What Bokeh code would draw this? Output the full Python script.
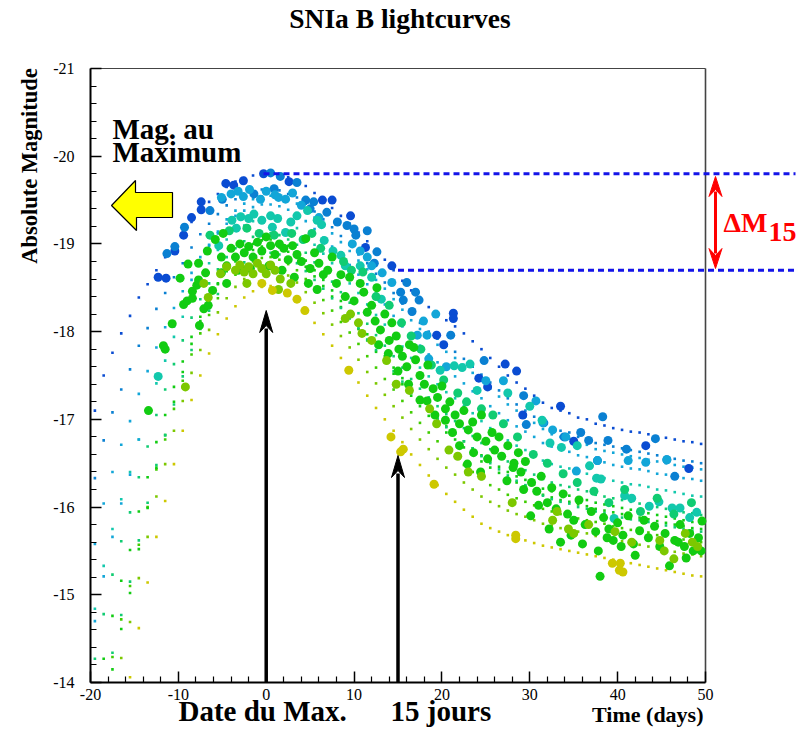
from bokeh.plotting import figure
from bokeh.models import Range1d, LinearAxis, FixedTicker, Label, ColumnDataSource
from bokeh.embed import file_html
from bokeh.resources import INLINE
import math

# ---------------- data ----------------
XTICKS = [-20, -10, 0, 10, 20, 30, 40, 50]
XMINOR = [-18, -16, -14, -12, -8, -6, -4, -2, 2, 4, 6, 8, 12, 14, 16, 18,
          22, 24, 26, 28, 32, 34, 36, 38, 42, 44, 46, 48]
YTICKS = [-21, -20, -19, -18, -17, -16, -15, -14]
YMINOR = [-20.8, -20.6, -20.4, -20.2, -19.8, -19.6, -19.4, -19.2, -18.8, -18.6,
          -18.4, -18.2, -17.8, -17.6, -17.4, -17.2, -16.8, -16.6, -16.4, -16.2,
          -15.8, -15.6, -15.4, -15.2, -14.8, -14.6, -14.4, -14.2]

# template (fitted light-curve) sampling days
DAYS = [-19.5, -18.5, -17.5, -16.5, -15.5, -14.5, -13.5, -12.5, -11.5, -10.5,
        -9.5, -8.5, -7.5, -6.5, -5.5, -4.5, -3.5, -2.5, -1.5, -0.5,
        0.5, 1.5, 2.5, 3.5, 4.5, 5.5, 6.5, 7.5, 8.5, 9.5,
        10.5, 11.5, 12.5, 13.5, 14.5, 15.5, 16.5, 17.5, 18.5, 19.5,
        20.5, 21.5, 22.5, 23.5, 24.5, 25.5, 26.5, 27.5, 28.5, 29.5,
        30.5, 31.5, 32.5, 33.5, 34.5, 35.5, 36.5, 37.5, 38.5, 39.5,
        40.5, 41.5, 42.5, 43.5, 44.5, 45.5, 46.5, 47.5, 48.5, 49.5]

T1 = [-17.10, -17.50, -17.76, -17.98, -18.18, -18.39, -18.54, -18.70, -18.85, -18.98,
      -19.10, -19.25, -19.38, -19.48, -19.57, -19.65, -19.71, -19.75, -19.78, -19.80,
      -19.80, -19.79, -19.76, -19.72, -19.66, -19.58, -19.50, -19.41, -19.32, -19.23,
      -19.13, -19.03, -18.92, -18.82, -18.70, -18.58, -18.47, -18.37, -18.28, -18.20,
      -18.13, -18.06, -17.98, -17.89, -17.80, -17.70, -17.60, -17.50, -17.42, -17.35,
      -17.27, -17.19, -17.13, -17.10, -17.07, -17.02, -17.00, -16.95, -16.93, -16.90,
      -16.88, -16.86, -16.85, -16.83, -16.80, -16.79, -16.77, -16.75, -16.74, -16.72]
T2 = [-16.33, -16.76, -17.08, -17.34, -17.57, -17.84, -18.04, -18.26, -18.44, -18.62,
      -18.78, -18.96, -19.11, -19.23, -19.34, -19.44, -19.51, -19.56, -19.59, -19.62,
      -19.62, -19.61, -19.57, -19.53, -19.46, -19.37, -19.28, -19.19, -19.09, -18.99,
      -18.88, -18.78, -18.66, -18.56, -18.44, -18.32, -18.20, -18.10, -18.00, -17.92,
      -17.84, -17.77, -17.69, -17.60, -17.51, -17.42, -17.33, -17.24, -17.17, -17.10,
      -17.03, -16.96, -16.90, -16.87, -16.85, -16.80, -16.78, -16.73, -16.71, -16.69,
      -16.67, -16.65, -16.63, -16.61, -16.59, -16.57, -16.55, -16.53, -16.52, -16.50]
T3 = [-15.58, -16.04, -16.40, -16.71, -16.98, -17.29, -17.55, -17.82, -18.05, -18.27,
      -18.46, -18.67, -18.85, -18.99, -19.12, -19.23, -19.32, -19.38, -19.42, -19.45,
      -19.45, -19.43, -19.39, -19.34, -19.26, -19.17, -19.07, -18.97, -18.87, -18.76,
      -18.65, -18.54, -18.42, -18.31, -18.18, -18.06, -17.94, -17.84, -17.74, -17.65,
      -17.57, -17.49, -17.41, -17.32, -17.24, -17.15, -17.07, -16.99, -16.92, -16.86,
      -16.80, -16.73, -16.69, -16.66, -16.63, -16.59, -16.57, -16.53, -16.51, -16.48,
      -16.46, -16.44, -16.43, -16.41, -16.38, -16.37, -16.35, -16.33, -16.32, -16.30]
T4 = [-14.84, -15.33, -15.75, -16.09, -16.40, -16.77, -17.09, -17.41, -17.67, -17.94,
      -18.17, -18.41, -18.61, -18.78, -18.93, -19.05, -19.15, -19.21, -19.26, -19.30,
      -19.30, -19.28, -19.24, -19.18, -19.09, -18.99, -18.89, -18.78, -18.67, -18.55,
      -18.44, -18.31, -18.19, -18.08, -17.95, -17.83, -17.70, -17.59, -17.49, -17.40,
      -17.31, -17.24, -17.15, -17.07, -16.98, -16.90, -16.83, -16.76, -16.70, -16.65,
      -16.59, -16.53, -16.49, -16.46, -16.44, -16.40, -16.38, -16.35, -16.33, -16.30,
      -16.28, -16.26, -16.25, -16.23, -16.20, -16.19, -16.17, -16.15, -16.13, -16.12]
T5 = [-14.27, -14.78, -15.23, -15.61, -15.94, -16.34, -16.69, -17.05, -17.34, -17.63,
      -17.90, -18.16, -18.37, -18.55, -18.71, -18.85, -18.95, -19.03, -19.08, -19.11,
      -19.12, -19.10, -19.05, -18.99, -18.90, -18.79, -18.68, -18.57, -18.45, -18.33,
      -18.21, -18.09, -17.96, -17.84, -17.72, -17.59, -17.46, -17.35, -17.25, -17.15,
      -17.06, -16.98, -16.90, -16.81, -16.73, -16.66, -16.59, -16.52, -16.47, -16.42,
      -16.37, -16.32, -16.28, -16.25, -16.23, -16.20, -16.18, -16.14, -16.12, -16.10,
      -16.08, -16.06, -16.04, -16.02, -16.00, -15.98, -15.96, -15.94, -15.93, -15.91]
T6 = [-13.74, -14.27, -14.76, -15.16, -15.51, -15.95, -16.34, -16.74, -17.05, -17.37,
      -17.66, -17.94, -18.17, -18.37, -18.54, -18.69, -18.80, -18.88, -18.93, -18.97,
      -18.98, -18.96, -18.91, -18.84, -18.74, -18.63, -18.52, -18.40, -18.28, -18.16,
      -18.03, -17.90, -17.77, -17.65, -17.52, -17.40, -17.27, -17.15, -17.04, -16.94,
      -16.85, -16.77, -16.68, -16.60, -16.52, -16.45, -16.39, -16.33, -16.28, -16.24,
      -16.19, -16.14, -16.11, -16.08, -16.06, -16.03, -16.01, -15.98, -15.96, -15.94,
      -15.92, -15.90, -15.88, -15.86, -15.84, -15.82, -15.80, -15.78, -15.76, -15.75]
T7 = [-13.22, -13.77, -14.29, -14.72, -15.10, -15.57, -16.00, -16.43, -16.77, -17.12,
      -17.44, -17.74, -17.98, -18.19, -18.38, -18.53, -18.65, -18.74, -18.80, -18.84,
      -18.85, -18.82, -18.77, -18.70, -18.60, -18.48, -18.36, -18.24, -18.11, -17.99,
      -17.86, -17.72, -17.59, -17.46, -17.34, -17.21, -17.08, -16.96, -16.85, -16.75,
      -16.65, -16.57, -16.48, -16.40, -16.32, -16.25, -16.20, -16.14, -16.10, -16.06,
      -16.02, -15.98, -15.95, -15.92, -15.90, -15.87, -15.85, -15.83, -15.81, -15.78,
      -15.76, -15.74, -15.73, -15.71, -15.68, -15.67, -15.65, -15.63, -15.61, -15.60]
T8 = [-12.70, -13.27, -13.82, -14.28, -14.69, -15.19, -15.66, -16.12, -16.49, -16.87,
      -17.21, -17.53, -17.79, -18.02, -18.22, -18.38, -18.51, -18.60, -18.67, -18.71,
      -18.72, -18.69, -18.64, -18.56, -18.45, -18.33, -18.21, -18.08, -17.95, -17.82,
      -17.68, -17.54, -17.41, -17.28, -17.15, -17.02, -16.89, -16.77, -16.66, -16.55,
      -16.45, -16.37, -16.28, -16.20, -16.12, -16.06, -16.01, -15.96, -15.92, -15.89,
      -15.85, -15.81, -15.79, -15.76, -15.74, -15.72, -15.70, -15.67, -15.65, -15.63,
      -15.61, -15.59, -15.57, -15.55, -15.53, -15.51, -15.49, -15.47, -15.46, -15.44]
T9 = [-11.92, -12.52, -13.12, -13.62, -14.06, -14.62, -15.14, -15.66, -16.07, -16.49,
      -16.87, -17.22, -17.50, -17.75, -17.97, -18.15, -18.29, -18.39, -18.46, -18.51,
      -18.52, -18.49, -18.43, -18.35, -18.23, -18.10, -17.97, -17.84, -17.70, -17.56,
      -17.42, -17.27, -17.13, -17.00, -16.87, -16.74, -16.60, -16.48, -16.36, -16.25,
      -16.15, -16.06, -15.97, -15.89, -15.81, -15.76, -15.72, -15.68, -15.65, -15.62,
      -15.59, -15.56, -15.54, -15.52, -15.50, -15.48, -15.46, -15.44, -15.42, -15.40,
      -15.38, -15.36, -15.34, -15.32, -15.30, -15.28, -15.26, -15.24, -15.22, -15.21]
T10 = [-13.03, -13.60, -14.15, -14.61, -15.02, -15.52, -15.99, -16.45, -16.82, -17.20,
       -17.54, -17.86, -18.12, -18.35, -18.55, -18.71, -18.84, -18.93, -19.00, -19.04,
       -19.05, -19.03, -18.98, -18.91, -18.81, -18.70, -18.59, -18.47, -18.35, -18.23,
       -18.10, -17.97, -17.84, -17.72, -17.59, -17.47, -17.34, -17.22, -17.11, -17.01,
       -16.92, -16.84, -16.75, -16.67, -16.59, -16.52, -16.46, -16.40, -16.35, -16.31,
       -16.26, -16.21, -16.18, -16.15, -16.13, -16.10, -16.08, -16.05, -16.03, -16.01,
       -15.99, -15.97, -15.95, -15.93, -15.91, -15.89, -15.87, -15.85, -15.83, -15.82]
T11 = [-14.70, -15.21, -15.66, -16.04, -16.37, -16.77, -17.12, -17.48, -17.77, -18.06,
       -18.33, -18.59, -18.80, -18.98, -19.14, -19.28, -19.38, -19.46, -19.51, -19.54,
       -19.55, -19.54, -19.50, -19.46, -19.39, -19.30, -19.21, -19.12, -19.02, -18.92,
       -18.81, -18.71, -18.59, -18.49, -18.37, -18.25, -18.13, -18.03, -17.93, -17.85,
       -17.77, -17.70, -17.62, -17.53, -17.44, -17.35, -17.26, -17.17, -17.10, -17.03,
       -16.96, -16.89, -16.83, -16.80, -16.78, -16.73, -16.71, -16.66, -16.64, -16.62,
       -16.60, -16.58, -16.56, -16.54, -16.52, -16.50, -16.48, -16.46, -16.45, -16.43]
T12 = [-13.27, -13.82, -14.34, -14.77, -15.15, -15.62, -16.05, -16.48, -16.82, -17.17,
       -17.49, -17.79, -18.03, -18.24, -18.43, -18.58, -18.70, -18.79, -18.85, -18.89,
       -18.90, -18.88, -18.84, -18.78, -18.69, -18.59, -18.49, -18.38, -18.27, -18.15,
       -18.04, -17.91, -17.79, -17.68, -17.55, -17.43, -17.30, -17.19, -17.09, -17.00,
       -16.91, -16.84, -16.75, -16.67, -16.58, -16.50, -16.43, -16.36, -16.30, -16.25,
       -16.19, -16.13, -16.09, -16.06, -16.04, -16.00, -15.98, -15.95, -15.93, -15.90,
       -15.88, -15.86, -15.85, -15.83, -15.80, -15.79, -15.77, -15.75, -15.73, -15.72]

# measured points, grouped by colour class
G1_X = [-12.3, -11.4, -10.4, -9.4, -8.5, -7.4, -7.4, -4.6, -3.7, -2.6, -0.3, 2.6, 6.4, 7.5, 9.6,
        11.3, 14.3, 19.4, 20.2, 21.3, 21.3, 24.2, 25.2, 27.2, 28.5, 29.2, 33.5, 35.0, 43.2, 48.1]
G1_Y = [-18.62, -18.61, -18.92, -19.10, -19.30, -19.39, -19.48, -19.69, -19.67, -19.72, -19.80,
        -19.71, -19.50, -19.50, -19.32, -18.96, -18.75, -17.96, -17.85, -18.21, -18.15, -17.47,
        -17.37, -17.63, -17.55, -17.05, -17.15, -16.75, -16.70, -16.44]
G2_X = [-11.3, -10.4, -9.3, -6.4, -5.0, -1.4, 0.5, 0.9, 1.6, 3.5, 4.5, 5.0, 5.4, 6.9, 8.1, 9.2,
        10.0, 10.2, 11.5, 12.6, 12.3, 15.3, 16.0, 17.0, 15.6, 17.4, 16.6, 21.0, 24.8, 29.3, 29.6,
        31.6, 33.9, 35.8, 36.7, 38.3, 38.9, 41.0, 44.3, 45.6, 46.5, 37.7]
G2_Y = [-18.89, -18.97, -19.19, -19.38, -19.51, -19.57, -19.81, -19.63, -19.77, -19.70, -19.50,
        -19.40, -19.48, -19.36, -19.25, -19.21, -19.17, -19.10, -19.15, -18.91, -18.78, -18.45,
        -18.56, -18.45, -18.36, -18.36, -18.23, -17.96, -17.67, -17.27, -16.94, -16.96, -16.80,
        -16.85, -16.76, -17.03, -16.76, -16.66, -16.78, -16.54, -16.35, -16.53]
G3_X = [-5.1, -4.0, -3.2, -2.6, -1.9, -0.65, 0.0, 1.0, 1.4, 2.2, 3.0, 4.0, 6.0, 9.8, 10.7, 11.5,
        12.0, 13.2, 14.3, 17.2, 17.9, 18.3, 18.5, 19.3, 20.5, 25.0, 27.0, 30.7, 31.5, 32.6, 34.1,
        35.3, 37.7, 41.2, 43.2, 45.6]
G3_Y = [-19.53, -19.57, -19.60, -19.54, -19.62, -19.51, -19.60, -19.56, -19.53, -19.51, -19.58,
        -19.44, -19.30, -19.00, -18.92, -18.85, -18.75, -18.67, -18.56, -17.96, -18.12, -17.96,
        -17.69, -18.20, -17.60, -17.44, -17.44, -17.21, -16.96, -16.88, -16.80, -16.41, -16.53,
        -16.53, -16.51, -16.54]
G4_X = [-12.3, -5.4, -3.9, -3.4, -2.9, -2.0, -1.4, -0.5, 0.5, 0.7, 1.3, 2.2, 2.8, 3.5, 4.7, 5.8,
        6.3, 6.6, 7.6, 8.5, 9.0, 10.7, 12.0, 13.1, 19.8, 21.4, 22.3, 23.2, 24.0, 27.5, 30.0, 31.4,
        32.3, 33.6, 35.4, 36.8, 37.6, 38.1, 39.6, 40.8, 41.6, 43.6, 44.7, 46.2, 47.1, 48.2, 49.0]
G4_Y = [-17.49, -18.98, -19.27, -19.18, -19.31, -19.29, -19.34, -19.27, -19.32, -19.19, -19.29,
        -19.13, -19.25, -19.32, -19.38, -19.27, -19.22, -19.04, -18.92, -18.87, -18.75, -18.75,
        -18.62, -18.37, -17.56, -17.61, -17.59, -17.63, -17.33, -17.30, -17.15, -16.99, -16.73,
        -16.68, -16.70, -16.47, -16.33, -16.32, -15.87, -16.13, -16.10, -16.01, -16.06, -15.99,
        -15.99, -15.88, -15.94]
G5_X = [-6.4, -4.2, -2.2, -0.8, 0.9, 2.9, 4.2, 5.2, 6.2, 8.8, 9.7, 11.0, 12.5, 14.0, 15.4, 16.5,
        17.6, 18.8, 20.2, 21.8, 22.8, 24.5, 25.8, 27.0, 28.6, 30.4, 32.0, 33.8, 35.4, 37.3, 39.0,
        40.8, 42.6, 44.5, 46.4, 48.4]
G5_Y = [-19.10, -19.15, -19.18, -19.12, -19.10, -19.12, -19.05, -19.12, -18.95, -18.80, -18.70,
        -18.68, -18.40, -18.30, -18.10, -17.95, -17.80, -17.62, -17.45, -17.30, -17.20, -17.12,
        -17.05, -16.95, -16.80, -16.60, -16.50, -16.38, -16.28, -16.18, -16.05, -16.20, -15.95,
        -16.10, -15.92, -16.05]
G6_X = [-13.4, -11.7, -11.5, -10.7, -9.8, -9.4, -9.0, -8.9, -8.4, -7.9, -7.7, -7.7, -7.6, -7.1,
        -6.9, -6.7, -6.6, -6.1, -5.8, -5.1, -5.1, -4.9, -4.5, -8.4,
        -4.0, -3.5, -3.0, -2.5, -2.0, -1.5, -1.0, -0.5, 0.0, 0.5, 1.0, 1.5, 2.0, 2.5, 3.0, 3.5,
        4.0, 4.5, 5.0, 5.5, 6.0, 6.5, 7.0, 7.5, -3.2, -1.8, 0.3, 1.8, 3.2, 4.8, 5.8, -4.5,
        8.0, 8.5, 9.0, 9.5, 10.0, 10.7, 11.1, 11.5, 12.0, 12.4, 12.6, 13.0, 13.5, 14.0, 14.3,
        14.8, 15.1, 15.5, 16.0, 16.3, 17.0, 17.5, 18.0, 18.4, 19.0, 19.5, 20.0, 20.4, 20.9,
        21.5, 22.0, 22.5, 23.0, 23.5, 24.0, 24.5, 25.0, 25.7, 26.0, 26.8, 27.5, 28.2, 28.7,
        29.0, 29.5,
        30.2, 30.8, 31.3, 32.0, 32.5, 33.0, 33.8, 34.3, 35.0, 35.6, 36.3, 37.0, 37.5, 38.0,
        38.4, 39.0, 39.5, 40.0, 40.6, 41.2, 41.8, 42.5, 43.0, 43.5, 44.2, 44.8, 45.4, 45.9,
        46.5, 47.1, 47.6, 48.2, 48.6, 49.2, 49.6,
        12.8, 13.9, 15.0, 16.2, 16.8, 17.5, 18.3, 19.2, 20.4, 21.2, 22.0, 22.9, 23.6, 24.4,
        25.2, 26.5, 27.4, 28.1, 29.3, 30.1, 31.0, 32.2, 33.5, 34.7, 36.0, 37.8, 38.8, 40.4,
        42.0, 46.9, 47.8, 49.5]
G6_Y = [-17.10, -17.84, -17.80, -18.09, -18.61, -18.31, -18.35, -18.77, -18.46, -18.53, -18.78,
        -18.59, -18.07, -18.26, -18.67, -18.92, -18.30, -18.47, -19.05, -18.85, -18.67, -19.12,
        -18.55, -18.38,
        -18.95, -18.85, -19.00, -18.90, -18.97, -18.85, -19.02, -18.92, -19.08, -18.98, -18.88,
        -19.00, -18.95, -18.82, -18.98, -18.88, -18.80, -19.06, -18.72, -18.90, -18.78, -18.65,
        -18.70, -18.85, -18.70, -18.72, -18.75, -18.70, -18.62, -18.55, -18.48, -18.75,
        -18.55, -18.65, -18.40, -18.62, -18.35, -18.55, -18.45, -18.22, -18.30, -18.12, -18.50,
        -18.02, -18.20, -17.90, -18.10, -17.95, -17.80, -17.72, -17.60, -17.85, -17.68, -17.50,
        -17.40, -17.62, -17.35, -17.25, -17.38, -17.12, -17.20, -17.05, -16.95, -17.10, -16.88,
        -16.97, -16.80, -17.05, -16.75, -16.85, -16.65, -16.58, -16.70, -16.50, -16.62, -16.40,
        -16.52,
        -16.28, -16.18, -16.35, -16.05, -16.22, -15.98, -16.15, -15.92, -15.85, -16.08, -15.80,
        -15.95, -15.72, -15.21, -15.88, -15.75, -15.62, -15.82, -15.68, -15.90, -15.58, -15.73,
        -15.85, -15.65, -15.78, -15.55, -15.70, -15.33, -15.62, -15.80, -15.55, -15.70, -15.50,
        -15.65, -15.84,
        -17.85, -17.75, -17.55, -17.40, -17.82, -17.22, -17.21, -17.05, -16.99, -16.85, -16.70,
        -16.49, -16.62, -16.40, -16.55, -16.80, -16.30, -16.45, -16.20, -15.90, -16.02, -15.75,
        -15.60, -15.68, -15.58, -15.50, -15.65, -15.55, -15.45, -15.60, -15.42, -15.50]
G7_X = [-9.2, -7.1, -6.6, -5.2, -4.5, -3.5, -3.0, -2.5, -2.2, -2.0, -1.5, -1.0, -0.5, 0.0, 0.5,
        1.0, 1.4, 1.6, 2.8, 9.0, 9.6, 10.5, 10.9, 12.0, 13.7, 14.8, 16.3, 18.6, 19.4, 20.8, 21.8,
        23.0, 24.5, 28.0, 32.6, 33.1, 34.4, 35.0, 36.7, 39.7, 41.6, 44.8, 45.3, 46.4, 47.7, 48.5,
        49.1]
G7_Y = [-17.37, -18.55, -18.39, -18.66, -18.74, -18.70, -18.76, -18.68, -18.55, -18.74, -18.66,
        -18.78, -18.72, -18.66, -18.76, -18.70, -18.48, -18.60, -18.55, -18.15, -18.20, -18.10,
        -17.98, -17.90, -17.67, -17.40, -17.33, -17.12, -16.95, -16.65, -16.58, -16.40, -16.35,
        -16.05, -15.85, -15.95, -15.75, -15.70, -15.80, -15.72, -15.60, -15.62, -15.50, -15.41,
        -15.70, -15.60, -15.55]
G8_X = [-0.5, 0.7, 2.4, 3.5, 4.4, 9.4, 14.2, 15.3, 15.6, 19.1, 28.4, 28.4, 39.4, 40.3, 40.2, 40.6]
G8_Y = [-18.55, -18.47, -18.44, -18.37, -18.24, -17.56, -16.80, -16.63, -16.66, -16.26, -15.68,
        -15.64, -15.36, -15.36, -15.28, -15.26]

MAG_MAX = -19.8      # peak magnitude (upper dashed line)
MAG_15 = -18.7       # magnitude 15 days after max (lower dashed line)
DAY_MAX = 0
DAY_15 = 15

# ---------------- styles / layout ----------------
C_DBLUE, C_BLUE, C_LBLUE = "#0a4cd2", "#0a80d2", "#12a6d8"
C_TEAL, C_GTEAL, C_GREEN = "#12c8ac", "#10cc72", "#12cc12"
C_GREEN2, C_YGREEN, C_YELLOW = "#40cc00", "#7cc800", "#cdc800"
TEMPLATES = [T1, T2, T3, T4, T5, T6, T7, T8, T9, T10, T11, T12]
TEMPLATE_COLORS = [C_DBLUE, C_BLUE, C_LBLUE, C_TEAL, C_GTEAL, C_GREEN, C_GREEN2, C_YGREEN,
                   C_YELLOW, C_GREEN, C_LBLUE, C_GTEAL]
GROUPS = [(G1_X, G1_Y, C_DBLUE), (G2_X, G2_Y, C_BLUE), (G3_X, G3_Y, C_LBLUE),
          (G4_X, G4_Y, C_TEAL), (G5_X, G5_Y, C_GTEAL), (G6_X, G6_Y, C_GREEN),
          (G7_X, G7_Y, C_YGREEN), (G8_X, G8_Y, C_YELLOW)]

W, H = 798, 730
PL, PR, PT, PB = 90, 705, 68, 682          # pixel box of the -20..50 / -21..-14 area
SX = 70.0 / (PR - PL)
SY = 7.0 / (PB - PT)


def X(px):
    return -20 + (px - PL) * SX


def Y(py):
    return -21 + (py - PT) * SY


FONT = "Liberation Serif"

# the frame covers the whole canvas; the axes are pinned at the box edges
p = figure(width=W, height=H, output_backend="svg", toolbar_location=None,
           x_range=Range1d(X(0), X(W)), y_range=Range1d(Y(H), Y(0)),
           x_axis_location=None, y_axis_location=None,
           min_border_left=0, min_border_right=0, min_border_top=0, min_border_bottom=0)
p.outline_line_color = None
p.grid.visible = False
p.background_fill_color = "white"
p.border_fill_color = "white"

xaxis = LinearAxis(ticker=FixedTicker(ticks=XTICKS, minor_ticks=XMINOR), bounds=(-20, 50),
                   fixed_location=-14)
yaxis = LinearAxis(ticker=FixedTicker(ticks=YTICKS, minor_ticks=YMINOR), bounds=(-21, -14),
                   fixed_location=-20)
for ax in (xaxis, yaxis):
    ax.major_tick_in = 11
    ax.major_tick_out = 0
    ax.minor_tick_in = 6
    ax.minor_tick_out = 0
    ax.axis_line_width = 2
    ax.axis_line_color = "black"
    ax.major_tick_line_width = 1.5
    ax.minor_tick_line_width = 1.2
    ax.major_label_text_font = FONT
    ax.major_label_text_font_size = "16px"
    ax.major_label_text_color = "black"
xaxis.major_label_overrides = {t: str(t) for t in XTICKS}
yaxis.major_label_overrides = {t: str(t) for t in YTICKS}
xaxis.major_label_standoff = 6
yaxis.major_label_standoff = 16
p.add_layout(xaxis, "below")
p.add_layout(yaxis, "left")

# top and right edges of the box
p.segment(x0=[-20, 50], y0=[-21, -21], x1=[50, 50], y1=[-21, -14],
          line_color="#444444", line_width=[1.2, 1.6])

# template small dots
tx, ty, tc = [], [], []
for vals, col in zip(TEMPLATES, TEMPLATE_COLORS):
    assert len(vals) == len(DAYS)
    for d, m in zip(DAYS, vals):
        if m <= -14:
            tx.append(d)
            ty.append(m)
            tc.append(col)
p.scatter(x="x", y="y", color="c", source=ColumnDataSource(dict(x=tx, y=ty, c=tc)),
          marker="square", size=2.6, line_color=None)

# measured big dots
dx, dy, dc = [], [], []
for gx, gy, col in GROUPS:
    assert len(gx) == len(gy)
    dx += gx
    dy += gy
    dc += [col] * len(gx)
p.scatter(x="x", y="y", fill_color="c", source=ColumnDataSource(dict(x=dx, y=dy, c=dc)),
          marker="circle", size=9, line_color=None)

# dashed reference lines
p.segment(x0=[X(263), DAY_15], y0=[MAG_MAX, MAG_15], x1=[X(795), X(795)],
          y1=[MAG_MAX, MAG_15], line_color="#1414e8", line_width=3, line_dash="6 4")


def arrow_head(x0, ytip, half_w_px, len_px, notch_px, up=True):
    d = 1 if up else -1   # up-pointing: base lies at larger magnitude (lower on screen)
    hw = half_w_px * SX
    return ([x0, x0 - hw, x0, x0 + hw],
            [ytip, ytip + d * len_px * SY, ytip + d * notch_px * SY, ytip + d * len_px * SY])


# black arrows (date of max, +15 days)
TIP1, TIP2 = Y(310), Y(455)
p.segment(x0=[DAY_MAX, DAY_15], y0=[-14, -14], x1=[DAY_MAX, DAY_15],
          y1=[TIP1 + 18 * SY, TIP2 + 18 * SY], line_color="black", line_width=3.5)
for xx, tt in ((DAY_MAX, TIP1), (DAY_15, TIP2)):
    hx, hy = arrow_head(xx, tt, 6.5, 22, 15, up=True)
    p.patch(hx, hy, fill_color="black", line_color="black", line_width=1)

# red double arrow for Delta M15
XR = X(715)
RT, RB = Y(176), Y(268)
p.segment(x0=[XR], y0=[RT + 15 * SY], x1=[XR], y1=[RB - 15 * SY], line_color="red", line_width=3)
hx, hy = arrow_head(XR, RT, 6.5, 20, 13, up=True)
p.patch(hx, hy, fill_color="red", line_color="red")
hx, hy = arrow_head(XR, RB, 6.5, 20, 13, up=False)
p.patch(hx, hy, fill_color="red", line_color="red")

# yellow arrow (towards the magnitude axis)
YA_PX = [111, 135, 135, 172, 172, 136, 136]
YA_PY = [205, 180, 192, 192, 217, 217, 230]
p.patch([X(v) for v in YA_PX], [Y(v) for v in YA_PY], fill_color="#ffff00",
        line_color="black", line_width=1.2)


def lab(px, py, text, size, align="left", color="black", angle=0.0, baseline="alphabetic"):
    if angle == 0.0:
        py = py - 0.36 * size      # compensate the renderer's baseline placement
    p.add_layout(Label(x=X(px), y=Y(py), text=text, text_font=FONT, text_font_style="bold",
                       text_font_size="%gpx" % size, text_color=color, text_align=align,
                       text_baseline=baseline, angle=angle))


lab(399.5, 28, "SNIa B lightcurves", 27.5, align="center")
lab(112, 139, "Mag. au", 29)
lab(112, 162, "Maximum", 29)
lab(29, 165.5, "Absolute Magnitude", 22.5, align="center", angle=math.pi / 2, baseline="middle")
lab(703, 722, "Time (days)", 22, align="right")
lab(178, 721, "Date du Max.", 29)
lab(390, 721, "15 jours", 29)
lab(723, 232, "\u0394M", 28, color="red")
lab(768, 242, "15", 28, color="red")

open("out.html", "w").write(file_html(p, INLINE))
